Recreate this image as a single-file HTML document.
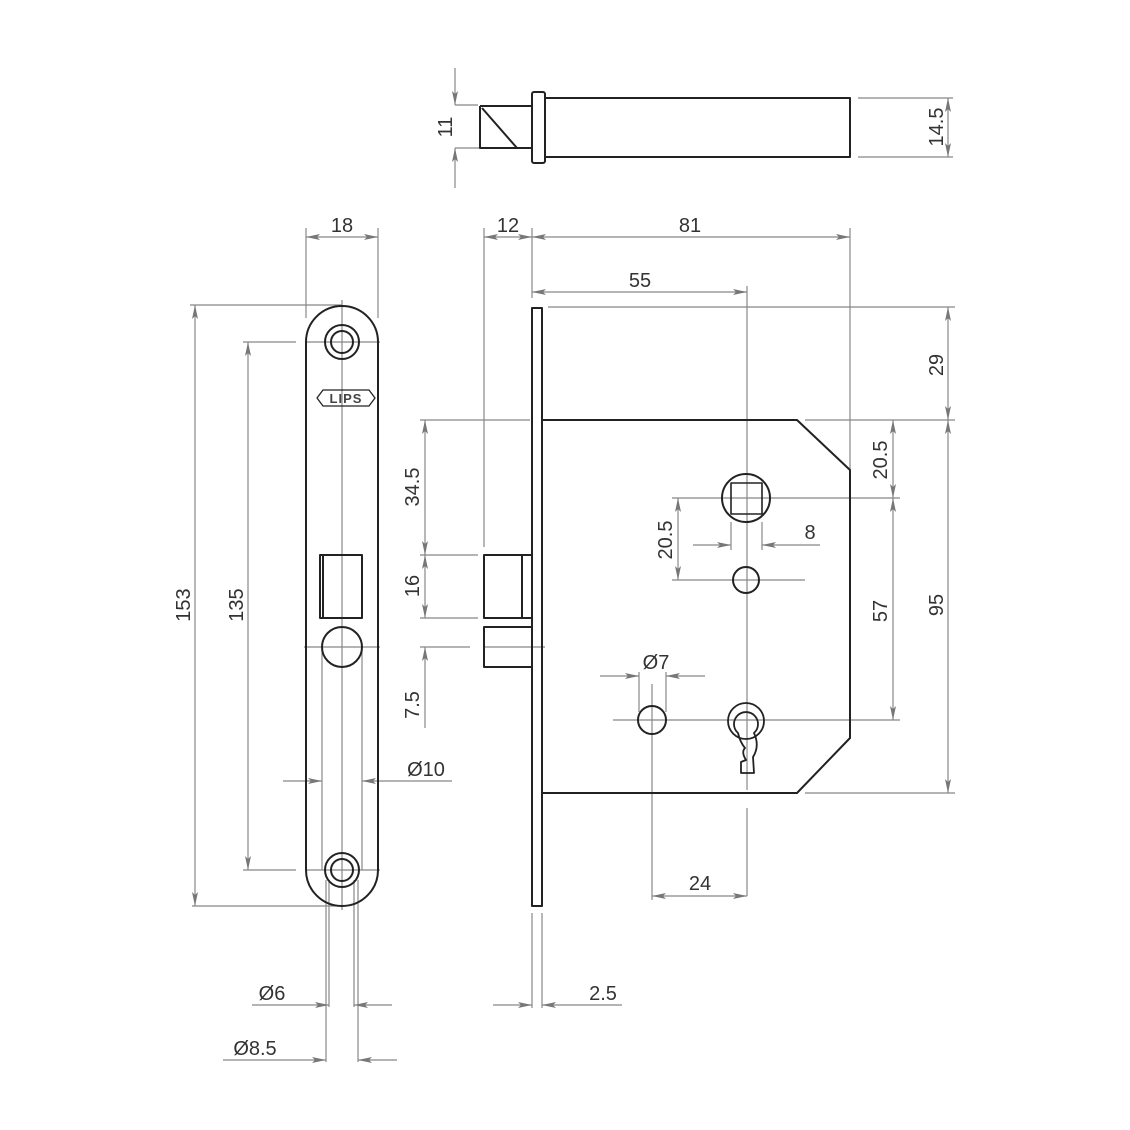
<!DOCTYPE html>
<html><head><meta charset="utf-8"><style>
html,body{margin:0;padding:0;background:#fff;}
svg{display:block;}
text{font-family:"Liberation Sans",Arial,sans-serif;font-size:20px;fill:#333;}
</style></head><body>
<svg width="1130" height="1130" viewBox="0 0 1130 1130" xmlns="http://www.w3.org/2000/svg">
<defs>
<marker id="a" viewBox="0 0 14 6" refX="14" refY="3" markerWidth="14" markerHeight="6" markerUnits="userSpaceOnUse" orient="auto-start-reverse">
<path d="M0,0 L14,3 L0,6 L3,3 Z" fill="#777"/></marker>
</defs>
<rect width="1130" height="1130" fill="#fff"/>

<g stroke="#888" stroke-width="1.2" fill="none">
 <line x1="455" y1="105" x2="478" y2="105"/>
 <line x1="455" y1="148" x2="515" y2="148"/>
 <line x1="455" y1="68" x2="455" y2="105" marker-end="url(#a)"/>
 <line x1="455" y1="188" x2="455" y2="148" marker-end="url(#a)"/>
 <line x1="858" y1="98" x2="953" y2="98"/>
 <line x1="858" y1="157" x2="953" y2="157"/>
 <line x1="948" y1="98" x2="948" y2="157" marker-start="url(#a)" marker-end="url(#a)"/>

 <line x1="306" y1="228" x2="306" y2="318"/>
 <line x1="378" y1="228" x2="378" y2="318"/>
 <line x1="306" y1="237" x2="378" y2="237" marker-start="url(#a)" marker-end="url(#a)"/>
 <line x1="190" y1="305" x2="342" y2="305"/>
 <line x1="192" y1="906" x2="342" y2="906"/>
 <line x1="195" y1="305" x2="195" y2="906" marker-start="url(#a)" marker-end="url(#a)"/>
 <line x1="243" y1="342" x2="296" y2="342"/>
 <line x1="243" y1="870" x2="296" y2="870"/>
 <line x1="248" y1="342" x2="248" y2="870" marker-start="url(#a)" marker-end="url(#a)"/>
 <line x1="342" y1="300" x2="342" y2="910"/>
 <line x1="305" y1="342" x2="380" y2="342"/>
 <line x1="305" y1="870" x2="380" y2="870"/>
 <line x1="304" y1="647" x2="380" y2="647"/>
 <line x1="322" y1="647" x2="322" y2="870"/>
 <line x1="362" y1="647" x2="362" y2="870"/>
 <line x1="283" y1="781" x2="322" y2="781" marker-end="url(#a)"/>
 <line x1="452" y1="781" x2="362" y2="781" marker-end="url(#a)"/>
 <line x1="326" y1="880" x2="326" y2="1062"/>
 <line x1="329" y1="880" x2="329" y2="1007"/>
 <line x1="354" y1="880" x2="354" y2="1007"/>
 <line x1="358" y1="880" x2="358" y2="1062"/>
 <line x1="252" y1="1005" x2="329" y2="1005" marker-end="url(#a)"/>
 <line x1="392" y1="1005" x2="354" y2="1005" marker-end="url(#a)"/>
 <line x1="223" y1="1060" x2="326" y2="1060" marker-end="url(#a)"/>
 <line x1="397" y1="1060" x2="358" y2="1060" marker-end="url(#a)"/>

 <line x1="484" y1="228" x2="484" y2="547"/>
 <line x1="532" y1="228" x2="532" y2="298"/>
 <line x1="850" y1="228" x2="850" y2="470"/>
 <line x1="484" y1="237" x2="532" y2="237" marker-start="url(#a)" marker-end="url(#a)"/>
 <line x1="532" y1="237" x2="850" y2="237" marker-start="url(#a)" marker-end="url(#a)"/>
 <line x1="532" y1="292" x2="747" y2="292" marker-start="url(#a)" marker-end="url(#a)"/>
 <line x1="747" y1="286" x2="747" y2="790"/>
 <line x1="747" y1="808" x2="747" y2="896"/>
 <line x1="548" y1="307" x2="955" y2="307"/>

 <line x1="420" y1="420" x2="530" y2="420"/>
 <line x1="420" y1="555" x2="478" y2="555"/>
 <line x1="420" y1="618" x2="478" y2="618"/>
 <line x1="420" y1="647" x2="470" y2="647"/>
 <line x1="485" y1="647" x2="545" y2="647"/>
 <line x1="425" y1="420" x2="425" y2="555" marker-start="url(#a)" marker-end="url(#a)"/>
 <line x1="425" y1="555" x2="425" y2="618" marker-start="url(#a)" marker-end="url(#a)"/>
 <line x1="425" y1="728" x2="425" y2="647" marker-end="url(#a)"/>

 <line x1="805" y1="420" x2="955" y2="420"/>
 <line x1="805" y1="793" x2="955" y2="793"/>
 <line x1="948" y1="307" x2="948" y2="420" marker-start="url(#a)" marker-end="url(#a)"/>
 <line x1="948" y1="420" x2="948" y2="793" marker-start="url(#a)" marker-end="url(#a)"/>
 <line x1="893" y1="420" x2="893" y2="498" marker-start="url(#a)" marker-end="url(#a)"/>
 <line x1="893" y1="498" x2="893" y2="720" marker-start="url(#a)" marker-end="url(#a)"/>
 <line x1="672" y1="498" x2="900" y2="498"/>
 <line x1="672" y1="580" x2="805" y2="580"/>
 <line x1="678" y1="498" x2="678" y2="580" marker-start="url(#a)" marker-end="url(#a)"/>
 <line x1="613" y1="720" x2="900" y2="720"/>
 <line x1="731" y1="522" x2="731" y2="550"/>
 <line x1="762" y1="522" x2="762" y2="550"/>
 <line x1="693" y1="545" x2="731" y2="545" marker-end="url(#a)"/>
 <line x1="820" y1="545" x2="762" y2="545" marker-end="url(#a)"/>
 <line x1="639" y1="672" x2="639" y2="712"/>
 <line x1="666" y1="672" x2="666" y2="712"/>
 <line x1="600" y1="676" x2="639" y2="676" marker-end="url(#a)"/>
 <line x1="705" y1="676" x2="666" y2="676" marker-end="url(#a)"/>
 <line x1="652" y1="684" x2="652" y2="900"/>
 <line x1="652" y1="896" x2="747" y2="896" marker-start="url(#a)" marker-end="url(#a)"/>
 <line x1="532" y1="913" x2="532" y2="1008"/>
 <line x1="542" y1="913" x2="542" y2="1008"/>
 <line x1="493" y1="1005" x2="532" y2="1005" marker-end="url(#a)"/>
 <line x1="622" y1="1005" x2="542" y2="1005" marker-end="url(#a)"/>
</g>

<g stroke="#222" stroke-width="2" fill="none" stroke-linejoin="round">
 <rect x="545" y="98" width="305" height="59"/>
 <rect x="532" y="92" width="13" height="71" rx="2"/>
 <path d="M480,106 L532,106 M480,106 L480,148 L532,148 M482,108 L517,148"/>
 <path d="M306,342 A36,36 0 0 1 378,342 L378,870 A36,36 0 0 1 306,870 Z"/>
 <circle cx="342" cy="342" r="17"/><circle cx="342" cy="342" r="11"/>
 <circle cx="342" cy="870" r="17"/><circle cx="342" cy="870" r="11"/>
 <rect x="320" y="555" width="42" height="63"/>
 <line x1="323" y1="555" x2="323" y2="618"/>
 <circle cx="342" cy="647" r="20"/>
 <path d="M317,398 L323,390 L369,390 L375,398 L369,406 L323,406 Z" stroke-width="1.3"/>
 <rect x="532" y="308" width="10" height="598"/>
 <path d="M542,420 L797,420 L850,470 L850,738 L797,793 L542,793"/>
 <rect x="484" y="555" width="48" height="63"/>
 <line x1="522" y1="555" x2="522" y2="618"/>
 <path d="M532,627 L484,627 L484,667 L532,667"/>
 <circle cx="746" cy="498" r="24"/>
 <rect x="731" y="483" width="31" height="31" stroke-width="1.6"/>
 <circle cx="746" cy="580" r="13"/>
 <circle cx="652" cy="720" r="14"/>
 <circle cx="746" cy="721" r="18" stroke-width="1.8"/>
 <path d="M738,733 A12,12 0 1 1 754,733 Q760,746 753,757 L754,773 L741,773 L741,762 L746,760 Q741,752 745,748 Q740,742 738,733 Z" stroke-width="1.8"/>
</g>

<text x="346" y="403" text-anchor="middle" letter-spacing="1" style="font-size:13px;font-weight:bold;fill:#444">LIPS</text>
<text x="342" y="232" text-anchor="middle">18</text>
<text x="508" y="232" text-anchor="middle">12</text>
<text x="690" y="232" text-anchor="middle">81</text>
<text x="640" y="287" text-anchor="middle">55</text>
<text x="810" y="539" text-anchor="middle">8</text>
<text x="656" y="669" text-anchor="middle">Ø7</text>
<text x="700" y="890" text-anchor="middle">24</text>
<text x="426" y="776" text-anchor="middle">Ø10</text>
<text x="272" y="1000" text-anchor="middle">Ø6</text>
<text x="255" y="1055" text-anchor="middle">Ø8.5</text>
<text x="603" y="1000" text-anchor="middle">2.5</text>
<g text-anchor="middle">
 <text transform="translate(452,127) rotate(-90)">11</text>
 <text transform="translate(943,127) rotate(-90)">14.5</text>
 <text transform="translate(190,605) rotate(-90)">153</text>
 <text transform="translate(243,605) rotate(-90)">135</text>
 <text transform="translate(419,487) rotate(-90)">34.5</text>
 <text transform="translate(419,586) rotate(-90)">16</text>
 <text transform="translate(419,705) rotate(-90)">7.5</text>
 <text transform="translate(672,540) rotate(-90)">20.5</text>
 <text transform="translate(887,460) rotate(-90)">20.5</text>
 <text transform="translate(887,611) rotate(-90)">57</text>
 <text transform="translate(943,605) rotate(-90)">95</text>
 <text transform="translate(943,365) rotate(-90)">29</text>
</g>
</svg>
</body></html>
